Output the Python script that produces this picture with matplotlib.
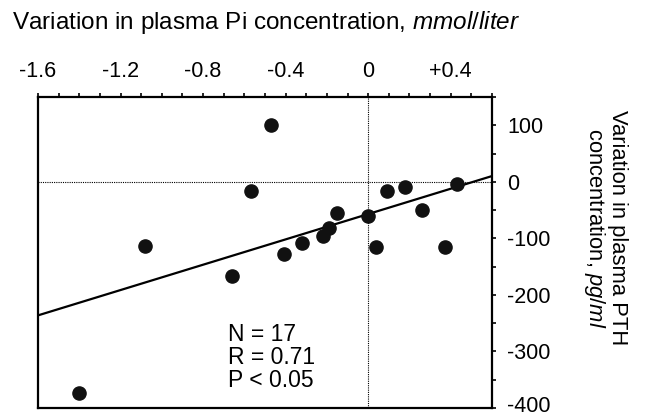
import matplotlib
matplotlib.use('Agg')
import matplotlib.pyplot as plt
import matplotlib.transforms as mtransforms
from matplotlib.ticker import MultipleLocator
import numpy as np

plt.rcParams['font.family'] = ['Liberation Sans', 'DejaVu Sans']
plt.rcParams['mathtext.fontset'] = 'custom'
plt.rcParams['mathtext.rm'] = 'Liberation Sans'
plt.rcParams['mathtext.it'] = 'Liberation Sans:italic'

# Variation in plasma Pi (mmol/liter) vs variation in plasma PTH (pg/ml)
pi_change = [-0.47, -0.57, -1.08, -0.66, -0.41, -0.32, -0.22, -0.19, -0.15,
             0.00, 0.04, 0.09, 0.18, 0.26, 0.37, 0.43, -1.40]
pth_change = [100, -16, -113, -167, -127, -109, -95, -82, -55,
              -61, -115, -16, -9, -49, -115, -4, -373]

# regression line
slope = 112.0
intercept = -57.0

x_ticks = [-1.6, -1.2, -0.8, -0.4, 0, 0.4]
x_tick_labels = ['-1.6', '-1.2', '-0.8', '-0.4', '0', '+0.4']
y_ticks = [100, 0, -100, -200, -300, -400]
y_tick_labels = ['100', '0', '-100', '-200', '-300', '-400']

x_min, x_max = -1.6, 0.6
y_min, y_max = -400, 150

# Create fig, ax objects
fig = plt.figure(figsize=(6.45, 4.18), dpi=100)
ax = fig.add_axes([38/645, 10/418, (492-38)/645, (408-97)/418])

# Reference lines at zero
ax.axhline(0, color='black', lw=0.8, ls=(0, (1, 1)), zorder=1)
ax.axvline(0, color='black', lw=0.8, ls=(0, (1, 1)), zorder=1)

# Regression line
xs = np.array([x_min, x_max])
ax.plot(xs, intercept + slope * xs, color='black', lw=1.6, zorder=2)

# Data points
ax.scatter(pi_change, pth_change, s=90, color='#111111', zorder=3)

ax.set_xlim(x_min, x_max)
ax.set_ylim(y_min, y_max)

# X axis on top
ax.xaxis.tick_top()
ax.set_xticks(x_ticks)
ax.set_xticklabels(x_tick_labels)
ax.xaxis.set_minor_locator(MultipleLocator(0.1))

# Y axis on right
ax.yaxis.tick_right()
ax.set_yticks(y_ticks)
ax.set_yticklabels(y_tick_labels)
ax.yaxis.set_minor_locator(MultipleLocator(50))

ax.tick_params(axis='both', which='both', direction='out', width=1.2,
               labelsize=15.5, colors='black')
ax.tick_params(axis='both', which='major', length=3)
ax.tick_params(axis='both', which='minor', length=3)
ax.tick_params(axis='x', which='major', pad=8)
ax.tick_params(axis='y', which='major', pad=8)

# keep the bottom label inside the figure
lbl = ax.get_yticklabels()[-1]
lbl.set_transform(lbl.get_transform() + mtransforms.ScaledTranslation(0, 3/72, fig.dpi_scale_trans))

for sp in ax.spines.values():
    sp.set_linewidth(1.6)

# Axis titles
fig.text(12/645, 1 - 22/418, r'Variation in plasma Pi concentration, $\mathit{mmol/liter}$',
         fontsize=17.5, ha='left', va='center')
fig.text(605/645, 1 - 228/418, 'Variation in plasma PTH\n' + r'concentration, $\mathit{pg/ml}$',
         fontsize=15.8, rotation=270, ha='center', va='center', multialignment='center',
         linespacing=1.0)

# Stats annotation
ax.text(-0.68, -249, 'N = 17\nR = 0.71\nP < 0.05', fontsize=16.5, ha='left', va='top',
        linespacing=1.0)

fig.savefig('out.png', dpi=100)
